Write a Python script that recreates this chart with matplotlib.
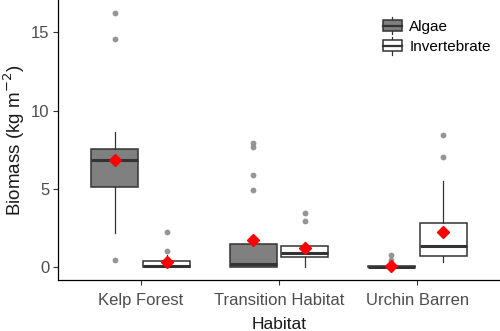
import matplotlib
matplotlib.use("Agg")
import matplotlib.pyplot as plt
from matplotlib.patches import Rectangle
from matplotlib.lines import Line2D
from matplotlib.legend_handler import HandlerBase

plt.rcParams['font.family'] = ['Liberation Sans', 'DejaVu Sans']

habitats = ["Kelp Forest", "Transition Habitat", "Urchin Barren"]
groups = ["Algae", "Invertebrate"]

# Box statistics per habitat (kg m^-2)
algae_whislo = [2.17, 0.0, 0.0]
algae_q1 = [5.14, 0.04, 0.0]
algae_med = [6.83, 0.21, 0.02]
algae_q3 = [7.53, 1.49, 0.06]
algae_whishi = [8.61, 1.85, 0.10]
algae_mean = [6.85, 1.74, 0.10]
algae_fliers = [[0.47, 14.59, 16.2], [4.91, 5.89, 7.66, 7.91], [0.47, 0.78]]

invert_whislo = [0.0, 0.04, 0.32]
invert_q1 = [0.0, 0.68, 0.72]
invert_med = [0.06, 0.93, 1.36]
invert_q3 = [0.40, 1.38, 2.85]
invert_whishi = [0.78, 1.60, 5.51]
invert_mean = [0.32, 1.21, 2.25]
invert_fliers = [[1.06, 2.23], [2.97, 3.45], [7.02, 8.42]]

fills = {"Algae": "#808080", "Invertebrate": "#ffffff"}
edge = "#333333"


def make_stats(whislo, q1, med, q3, whishi, mean, fliers):
    return [dict(whislo=a, q1=b, med=c, q3=d, whishi=e, mean=f, fliers=g)
            for a, b, c, d, e, f, g in zip(whislo, q1, med, q3, whishi, mean, fliers)]


stats = {
    "Algae": make_stats(algae_whislo, algae_q1, algae_med, algae_q3,
                        algae_whishi, algae_mean, algae_fliers),
    "Invertebrate": make_stats(invert_whislo, invert_q1, invert_med, invert_q3,
                               invert_whishi, invert_mean, invert_fliers),
}

fig = plt.figure(figsize=(5.0, 3.31), dpi=100)
ax = fig.add_axes([0.116, 0.154, 0.884, 0.846])

base = [1, 2, 3]
offsets = {"Algae": -0.1875, "Invertebrate": 0.1875}
for g in groups:
    pos = [b + offsets[g] for b in base]
    ax.bxp(stats[g], positions=pos, widths=0.34, patch_artist=True,
           showmeans=True, showcaps=False,
           boxprops=dict(facecolor=fills[g], edgecolor=edge, linewidth=1.1),
           medianprops=dict(color=edge, linewidth=2.2, solid_capstyle='butt'),
           whiskerprops=dict(color=edge, linewidth=0.9),
           flierprops=dict(marker='o', markersize=4.2, markerfacecolor='#8a8a8a',
                           markeredgecolor='none', alpha=0.9),
           meanprops=dict(marker='D', markersize=6.5, markerfacecolor='#ff0000',
                          markeredgecolor='#ff0000'),
           zorder=3)

ax.set_xlim(0.4, 3.6)
ax.set_ylim(-0.81, 17.06)
ax.set_xticks(base)
ax.set_xticklabels(habitats)
ax.set_yticks([0, 5, 10, 15])
ax.set_yticklabels(["0", "5", "10", "15"])

for s in ["top", "right"]:
    ax.spines[s].set_visible(False)
for s in ["left", "bottom"]:
    ax.spines[s].set_color("#000000")
    ax.spines[s].set_linewidth(0.9)

ax.tick_params(axis='both', colors='#333333', length=3.5, width=0.8,
               labelsize=12, labelcolor='#4d4d4d', pad=2.5)
ax.tick_params(axis='x', pad=6)

ax.set_xlabel("Habitat", fontsize=12.5, color='#1a1a1a', labelpad=6.5)
ax.set_ylabel("Biomass (kg m$^{-2}$)", fontsize=13.5, color='#1a1a1a')
ax.yaxis.set_label_coords(-0.07, 0.5)


class BoxKeyHandler(HandlerBase):
    def create_artists(self, legend, orig_handle, xdescent, ydescent,
                       width, height, fontsize, trans):
        fc = orig_handle.get_facecolor()
        cx = -xdescent + width / 2
        h = height * 0.8
        y0 = -ydescent + (height - h) / 2
        whisk_lo = Line2D([cx, cx], [-ydescent - 1.5, y0], color=edge, lw=0.9, transform=trans)
        whisk_hi = Line2D([cx, cx], [y0 + h, -ydescent + height + 1.5], color=edge, lw=0.9, transform=trans)
        box = Rectangle((-xdescent, y0), width, h, facecolor=fc, edgecolor=edge,
                        lw=1.1, transform=trans)
        med = Line2D([-xdescent, -xdescent + width], [y0 + h / 2, y0 + h / 2],
                     color=edge, lw=1.6, transform=trans)
        return [whisk_lo, whisk_hi, box, med]


handles = [Rectangle((0, 0), 1, 1, facecolor=fills[g]) for g in groups]
ax.legend(handles, groups, handler_map={Rectangle: BoxKeyHandler()},
          loc='upper left', bbox_to_anchor=(0.722, 0.955), frameon=False,
          fontsize=11, handlelength=1.2, handleheight=1.0, handletextpad=0.5,
          labelspacing=0.35, borderaxespad=0)

fig.savefig("out.png", dpi=100)
